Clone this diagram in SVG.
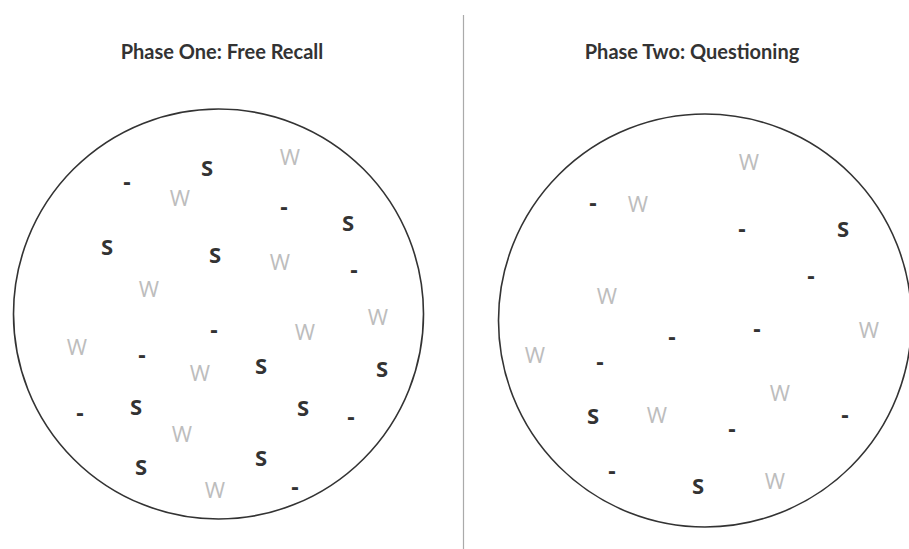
<svg xmlns="http://www.w3.org/2000/svg" width="909" height="549" viewBox="0 0 909 549">
<style>
.title{font-family:Lato,"Open Sans","Liberation Sans",sans-serif;font-weight:700;font-size:20px;fill:#333;text-anchor:middle}
.ring{fill:none;stroke:#333;stroke-width:1.6}
.s{font-family:"Open Sans",Lato,"Liberation Sans",sans-serif;font-weight:700;font-size:22px;fill:#333;text-anchor:middle}
.w{font-family:"Open Sans",Lato,"Liberation Sans",sans-serif;font-weight:400;font-size:22px;fill:#bdbdbd;text-anchor:middle}
.d{font-family:"Open Sans",Lato,"Liberation Sans",sans-serif;font-weight:700;font-size:23px;fill:#333;text-anchor:middle}
</style>
<rect width="909" height="549" fill="#fff"/>
<g id="divider"><line x1="463.5" y1="15" x2="463.5" y2="549" stroke="#aaa" stroke-width="1.2"/></g>
<g id="title-phase-one"><text class="title" x="222" y="59">Phase One: Free Recall</text></g>
<g id="title-phase-two"><text class="title" x="692" y="59">Phase Two: Questioning</text></g>
<g id="phase-one">
<circle class="ring" cx="218.5" cy="314" r="205"/>
<text class="w" x="290" y="165">W</text>
<text class="s" x="207" y="176">S</text>
<text class="d" x="127" y="190">-</text>
<text class="w" x="180" y="206">W</text>
<text class="d" x="284" y="215">-</text>
<text class="s" x="348" y="231">S</text>
<text class="s" x="107" y="255">S</text>
<text class="s" x="215" y="263">S</text>
<text class="w" x="280" y="270">W</text>
<text class="d" x="354" y="278">-</text>
<text class="w" x="149" y="297">W</text>
<text class="w" x="378" y="325">W</text>
<text class="d" x="214" y="338">-</text>
<text class="w" x="305" y="340">W</text>
<text class="w" x="77" y="355">W</text>
<text class="d" x="142" y="363">-</text>
<text class="s" x="261" y="374">S</text>
<text class="s" x="382" y="377">S</text>
<text class="w" x="200" y="381">W</text>
<text class="s" x="136" y="415">S</text>
<text class="s" x="303" y="416">S</text>
<text class="d" x="80" y="421">-</text>
<text class="d" x="351" y="425">-</text>
<text class="w" x="182" y="442">W</text>
<text class="s" x="261" y="466">S</text>
<text class="s" x="141" y="475">S</text>
<text class="d" x="295" y="495">-</text>
<text class="w" x="215" y="498">W</text>
</g>
<g id="phase-two">
<circle class="ring" cx="705" cy="320.5" r="206.5"/>
<text class="w" x="749" y="170">W</text>
<text class="d" x="593" y="211">-</text>
<text class="w" x="638" y="212">W</text>
<text class="d" x="742" y="237">-</text>
<text class="s" x="843" y="237">S</text>
<text class="d" x="811" y="284">-</text>
<text class="w" x="607" y="304">W</text>
<text class="d" x="757" y="337">-</text>
<text class="w" x="869" y="338">W</text>
<text class="d" x="672" y="345">-</text>
<text class="w" x="535" y="363">W</text>
<text class="d" x="600" y="370">-</text>
<text class="w" x="780" y="401">W</text>
<text class="s" x="593" y="424">S</text>
<text class="w" x="657" y="423">W</text>
<text class="d" x="845" y="423">-</text>
<text class="d" x="732" y="437">-</text>
<text class="d" x="612" y="479">-</text>
<text class="w" x="775" y="489">W</text>
<text class="s" x="698" y="494">S</text>
</g>
</svg>
